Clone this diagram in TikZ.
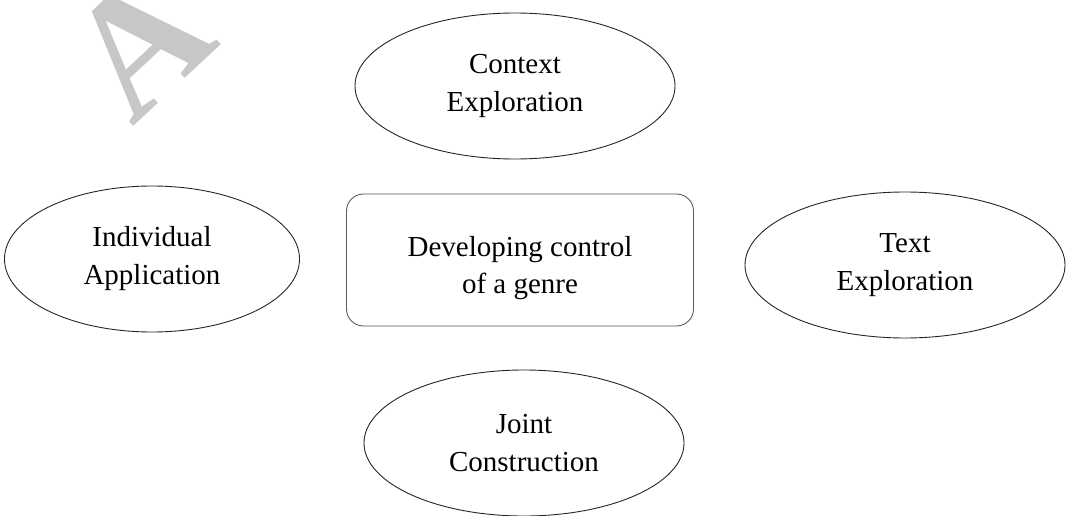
\documentclass[tikz,border=0pt]{standalone}
\usepackage{fontspec}
\setmainfont{Liberation Serif}
\usepackage{tikz}
\usetikzlibrary{shapes.geometric}

\begin{document}
\begin{tikzpicture}[
  x=1pt, y=-1pt,
  phase/.style={ellipse, draw=black!85, line width=0.9pt, inner sep=0pt,
                minimum width=320pt, minimum height=146pt, align=center,
                font=\fontsize{29}{38}\selectfont},
  hub/.style={rectangle, draw=black!65, line width=0.9pt, rounded corners=17pt,
              inner sep=0pt, minimum width=347pt, minimum height=132pt,
              align=center, font=\fontsize{29}{37}\selectfont},
  wmark/.style={text=black!22, inner sep=0pt, font=\fontsize{170}{170}\selectfont\bfseries},
]

\useasboundingbox (0,0) rectangle (1069,516);

% Watermark
\node[wmark, anchor=base west, rotate=43] (wm) at (132,128) {A};

% Centre box
\node[hub] (genre) at (520,260) {\rule{0pt}{36pt}Developing control\\of a genre};

% Stages round it
\node[phase] (context) at (515,86) {Context\\Exploration};
\node[phase, minimum width=295pt] (indiv) at (152,259) {Individual\\Application};
\node[phase] (textexp) at (905,265) {Text\\Exploration};
\node[phase] (joint) at (524,443) {Joint\\Construction};

\end{tikzpicture}
\end{document}
